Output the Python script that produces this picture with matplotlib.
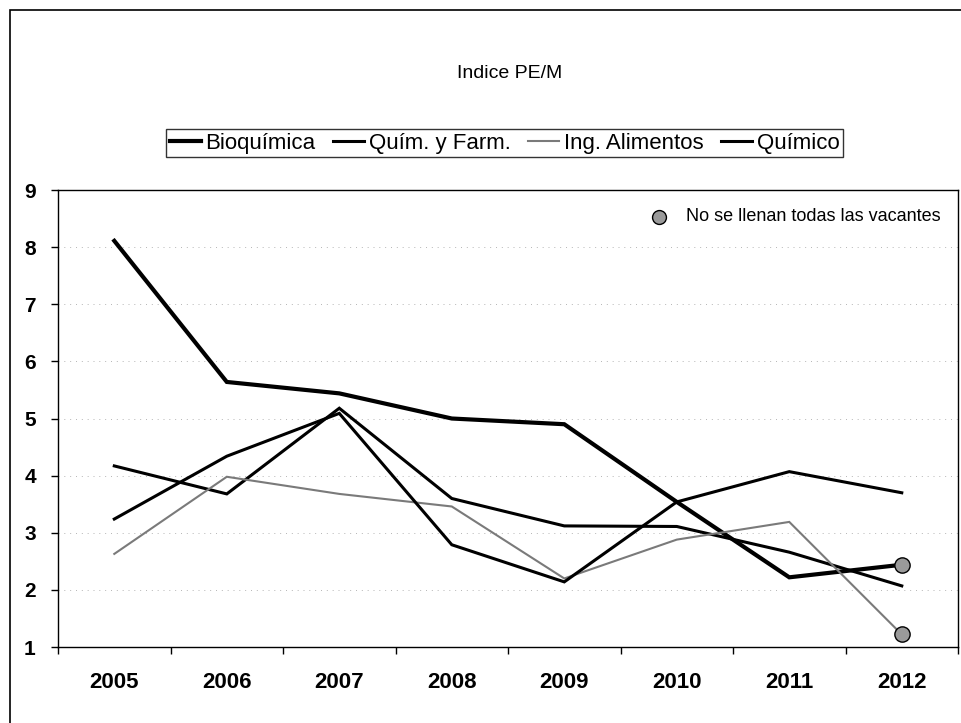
import matplotlib
matplotlib.use("Agg")
import matplotlib.pyplot as plt
from matplotlib.patches import Rectangle

plt.rcParams['font.family'] = ['Liberation Sans', 'DejaVu Sans']

# data
years = ['2005', '2006', '2007', '2008', '2009', '2010', '2011', '2012']
bioquimica = [8.11, 5.64, 5.44, 5.00, 4.90, 3.54, 2.22, 2.44]
quim_farm = [4.17, 3.68, 5.18, 3.60, 3.12, 3.11, 2.66, 2.07]
ing_alimentos = [2.63, 3.98, 3.68, 3.46, 2.20, 2.88, 3.19, 1.22]
quimico = [3.24, 4.34, 5.09, 2.79, 2.14, 3.54, 4.07, 3.70]
labels = ['Bioquímica', 'Quím. y Farm.', 'Ing. Alimentos', 'Químico']
# points where the vacancies were not all filled (series, year)
vacantes = [('Bioquímica', '2012'), ('Ing. Alimentos', '2012')]

fig = plt.figure(figsize=(9.61, 7.23), dpi=100)
ax = fig.add_axes([0.0604, 0.1051, 0.9365, 0.6321])

x = list(range(len(years)))
series = {
    'Bioquímica': (bioquimica, dict(color='black', lw=3.0)),
    'Quím. y Farm.': (quim_farm, dict(color='black', lw=2.2)),
    'Ing. Alimentos': (ing_alimentos, dict(color='#7a7a7a', lw=1.5)),
    'Químico': (quimico, dict(color='black', lw=2.2)),
}
handles = []
for name in labels:
    vals, style = series[name]
    h, = ax.plot(x, vals, solid_joinstyle='miter', label=name, **style)
    handles.append(h)

for name, yr in vacantes:
    i = years.index(yr)
    ax.plot(x[i], series[name][0][i], 'o', ms=11, mfc='#9a9a9a', mec='black',
            mew=1.0, zorder=5)

# faint scanned gridlines
for v in range(2, 9):
    ax.axhline(v, color='#b5b5b5', lw=0.7, ls=(0, (1, 5)), zorder=0)

ax.set_xlim(-0.5, len(years) - 0.5)
ax.set_ylim(1, 9)
ax.set_yticks(range(1, 10))
ax.set_xticks(x)
ax.set_xticklabels(years)
ax.set_xticks([i - 0.5 for i in range(len(years) + 1)], minor=True)
ax.tick_params(axis='x', which='major', length=0, pad=18, labelsize=16)
ax.tick_params(axis='x', which='minor', length=5, width=1, direction='out')
ax.tick_params(axis='y', length=5, width=1, direction='out', pad=11, labelsize=15)
for lab in ax.get_xticklabels() + ax.get_yticklabels():
    lab.set_fontweight('bold')
for sp in ax.spines.values():
    sp.set_color('black')
    sp.set_linewidth(1.0)

# note marker inside the plot, top right
ax.plot([0.686], [0.700], 'o', transform=fig.transFigure, ms=10, mfc='#9a9a9a',
        mec='black', mew=1.0, clip_on=False)
fig.text(0.714, 0.700, 'No se llenan todas las vacantes', fontsize=13,
         va='center', ha='left')

fig.text(0.53, 0.898, 'Indice PE/M', fontsize=14, ha='center', va='center')

leg = fig.legend(handles=handles, labels=labels, loc='center',
                 bbox_to_anchor=(0.525, 0.802), ncol=4, fontsize=16,
                 frameon=True, fancybox=False, handlelength=1.4,
                 handletextpad=0.2, columnspacing=0.8, borderpad=0.15,
                 borderaxespad=0)
leg.get_frame().set_edgecolor('black')
leg.get_frame().set_linewidth(1.0)

# outer border of the chart area (scan shows only left and top)
fig.patches.append(Rectangle((0.0104, -0.05), 1.2, 1.036, transform=fig.transFigure,
                             fill=False, edgecolor='black', lw=1.2))

fig.savefig('out.png', dpi=100, facecolor='white')
